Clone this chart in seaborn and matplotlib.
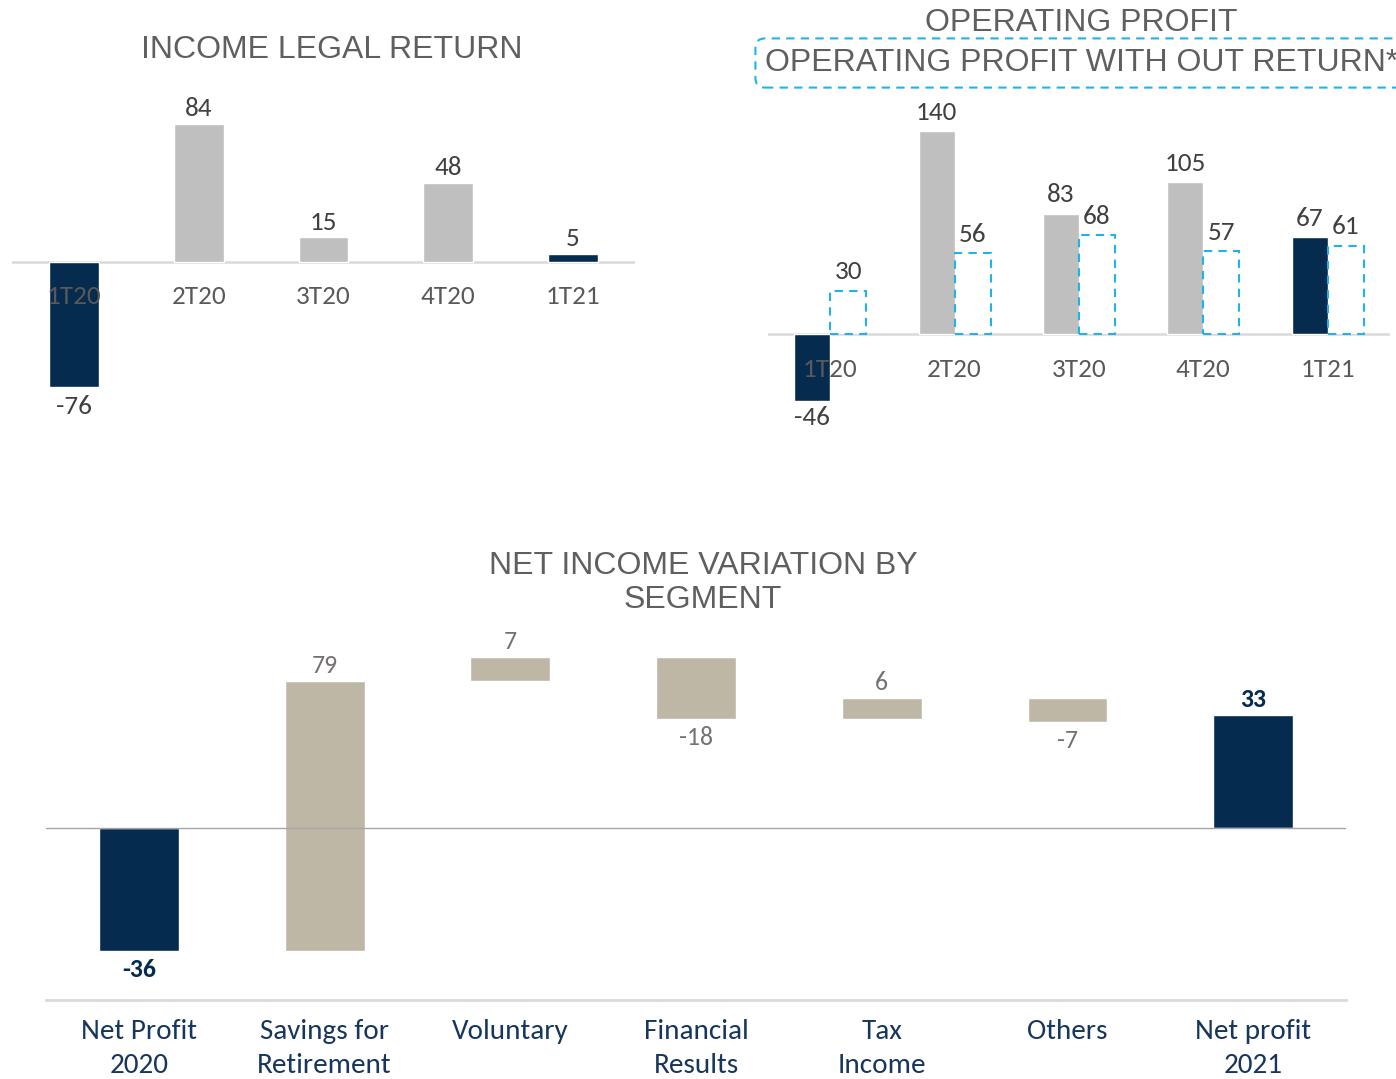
import pandas as pd
import matplotlib.pyplot as plt
import seaborn as sns

# data
quarters = ['1T20', '2T20', '3T20', '4T20', '1T21']
legal_return = [-76, 84, 15, 48, 5]
operating_profit = [-46, 140, 83, 105, 67]
operating_wo_return = [30, 56, 68, 57, 61]
highlight_quarters = ['1T20', '1T21']

segments = ['Net Profit\n2020', 'Savings for\nRetirement', 'Voluntary',
            'Financial\nResults', 'Tax\nIncome', 'Others', 'Net profit\n2021']
segment_change = [-36, 79, 7, -18, 6, -7, 33]
segment_is_total = [True, False, False, False, False, False, True]

NAVY = '#052c4f'
GREY = '#bfbfbf'
TAN = '#bfb7a5'
CYAN = '#1fb3ea'
TITLE_C = '#5f5f5f'
LABEL_C = '#404040'
TICK_C = '#595959'
CAT_C = '#17365d'

sns.set_theme(style='white')
plt.rcParams['font.family'] = ['Carlito', 'Lato', 'DejaVu Sans']
TITLE_FONT = ['Liberation Sans', 'DejaVu Sans']

W, H = 1396, 1079
fig = plt.figure(figsize=(W / 100, H / 100), dpi=100)


def px_axes(x0, y0, x1, y1):
    # axes box given in pixels from the top-left corner
    return fig.add_axes([x0 / W, 1 - y1 / H, (x1 - x0) / W, (y1 - y0) / H])


def label_bar(ax, x, y, text, up_pt, down_pt, **kw):
    off = up_pt if y >= 0 else -down_pt
    ax.annotate(text, (x, y), xytext=(0, off), textcoords='offset points',
                ha='center', va='center', **kw)


# 1. Income legal return
ax1 = px_axes(12, 100, 635, 430)
df1 = pd.DataFrame({'quarter': quarters, 'value': legal_return})
pal1 = {q: NAVY if q in highlight_quarters else GREY for q in quarters}
sns.barplot(data=df1, x='quarter', y='value', hue='quarter', palette=pal1,
            width=0.4, saturation=1, errorbar=None, legend=False, ax=ax1)
ax1.set_xlim(-0.5, 4.5)
ax1.set_ylim(-102, 98.5)
ax1.axhline(0, color='#d9d9d9', lw=1.8, zorder=0.5)
for i, (q, v) in enumerate(zip(quarters, legal_return)):
    label_bar(ax1, i, v, str(v), 11, 14, fontsize=19.5, color=LABEL_C)
    ax1.annotate(q, (i, 0), xytext=(0, -24.5), textcoords='offset points',
                 ha='center', va='center', fontsize=19.5, color=TICK_C, zorder=5)
ax1.set_axis_off()
fig.text(332 / W, 1 - 50 / H, 'INCOME LEGAL RETURN', ha='center', va='center',
         fontsize=23, color=TITLE_C, family=TITLE_FONT)

# 2. Operating profit, with and without the legal return
ax2 = px_axes(768, 100, 1390, 440)
df2 = pd.DataFrame({
    'quarter': quarters * 2,
    'series': ['Operating profit'] * 5 + ['Without return'] * 5,
    'value': operating_profit + operating_wo_return,
})
sns.barplot(data=df2, x='quarter', y='value', hue='series',
            palette=[GREY, 'white'], width=0.58, saturation=1,
            errorbar=None, legend=False, ax=ax2)
bars = ax2.patches
for patch, q in zip(bars[:5], quarters):
    if q in highlight_quarters:
        patch.set_facecolor(NAVY)
for patch in bars[5:10]:
    patch.set_edgecolor(CYAN)
    patch.set_linewidth(1.5)
    patch.set_linestyle((0, (4, 3)))
ax2.set_xlim(-0.5, 4.5)
ax2.set_ylim(-73, 161.4)
ax2.axhline(0, color='#d9d9d9', lw=1.8, zorder=0.5)
for patch, v in zip(bars[:10], operating_profit + operating_wo_return):
    xc = patch.get_x() + patch.get_width() / 2
    label_bar(ax2, xc, v, str(v), 13.5, 12, fontsize=19.5, color=LABEL_C)
for i, q in enumerate(quarters):
    ax2.annotate(q, (i, 0), xytext=(0, -25.5), textcoords='offset points',
                 ha='center', va='center', fontsize=19.5, color=TICK_C, zorder=5)
ax2.set_axis_off()
fig.text(1081 / W, 1 - 23 / H, 'OPERATING PROFIT', ha='center', va='center',
         fontsize=23, color=TITLE_C, family=TITLE_FONT)
fig.text(765 / W, 1 - 63 / H, 'OPERATING PROFIT WITH OUT RETURN*',
         ha='left', va='center', fontsize=23, color=TITLE_C, family=TITLE_FONT,
         bbox=dict(boxstyle='round,pad=0.3,rounding_size=0.3', fc='white',
                   ec=CYAN, lw=1.5, ls=(0, (4, 3))))

# 3. Net income variation by segment (waterfall)
starts = []
running = 0
for change, total in zip(segment_change, segment_is_total):
    if total:
        starts.append(0)
        running = change
    else:
        starts.append(running)
        running += change

ax3 = px_axes(46, 640, 1346, 1000)
df3 = pd.DataFrame({'segment': segments, 'change': segment_change})
pal3 = {s: NAVY if t else TAN for s, t in zip(segments, segment_is_total)}
sns.barplot(data=df3, x='segment', y='change', hue='segment', palette=pal3,
            width=0.43, saturation=1, errorbar=None, legend=False, ax=ax3)
for patch, s in zip(ax3.patches, starts):
    patch.set_y(s)
ax3.set_xlim(-0.5, 6.5)
ax3.set_ylim(-50.3, 55)
ax3.axhline(0, color='#a6a6a6', lw=1, zorder=3)
for i, (s, c, t) in enumerate(zip(starts, segment_change, segment_is_total)):
    end = s + c
    off = 11 if c >= 0 else -13.5
    ax3.annotate(str(c), (i, end), xytext=(0, off), textcoords='offset points',
                 ha='center', va='center', fontsize=18.5,
                 color=NAVY if t else '#767171',
                 fontweight='bold' if t else 'normal')
sns.despine(ax=ax3, left=True)
ax3.spines['bottom'].set_color('#d9d9d9')
ax3.spines['bottom'].set_linewidth(2)
ax3.set_yticks([])
ax3.set_xlabel('')
ax3.set_ylabel('')
ax3.tick_params(axis='x', length=0, pad=13.5, labelsize=21, labelcolor=CAT_C)
for lbl in ax3.get_xticklabels():
    lbl.set_linespacing(1.48)
fig.text(703 / W, 1 - 583 / H, 'NET INCOME VARIATION BY\nSEGMENT',
         ha='center', va='center', fontsize=23, color=TITLE_C,
         family=TITLE_FONT, linespacing=1.2)

fig.savefig('out.png', dpi=100)
